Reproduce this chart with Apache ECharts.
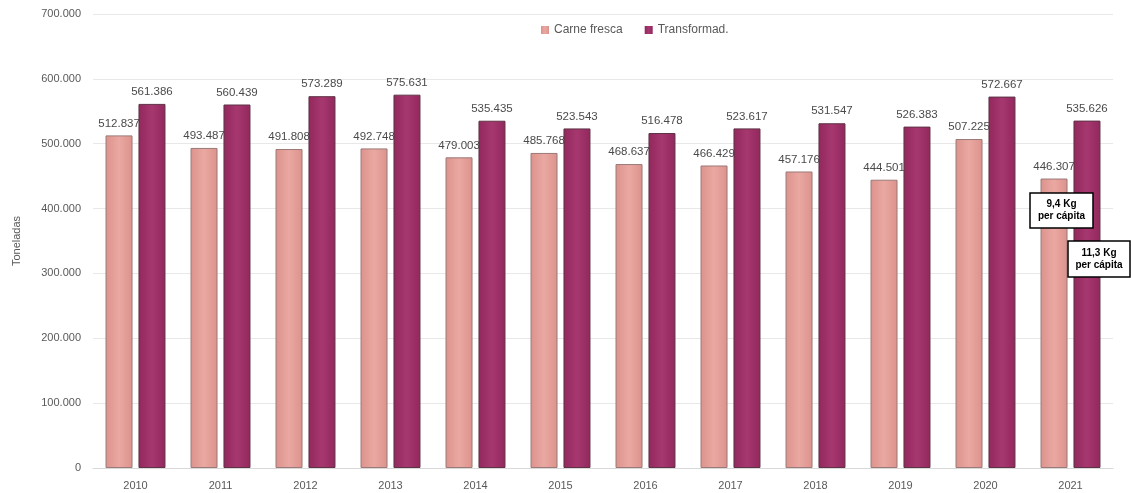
<!DOCTYPE html>
<html>
<head>
<meta charset="utf-8">
<script src="https://cdn.jsdelivr.net/npm/echarts@6/dist/echarts.min.js"></script>
<style>
  html, body { margin: 0; padding: 0; background: #fff; }
  #chart { width: 1131px; height: 493px; }
</style>
</head>
<body>
<div id="chart"></div>
<script>
// Consumo de carne de cerdo en hogares (toneladas)
const years = ['2010','2011','2012','2013','2014','2015','2016','2017','2018','2019','2020','2021'];
const carneFresca = [512837, 493487, 491808, 492748, 479003, 485768, 468637, 466429, 457176, 444501, 507225, 446307];
const transformados = [561386, 560439, 573289, 575631, 535435, 523543, 516478, 523617, 531547, 526383, 572667, 535626];
const seriesNames = ['Carne fresca', 'Transformad.'];
const yTicks = [0, 100000, 200000, 300000, 400000, 500000, 600000, 700000];
const perCapita = ['9,4 Kg\nper cápita', '11,3 Kg\nper cápita'];

const fmt = v => String(v).replace(/\B(?=(\d{3})+(?!\d))/g, '.');

function barGradient(edge, mid) {
  return new echarts.graphic.LinearGradient(0, 0, 1, 0, [
    { offset: 0, color: edge },
    { offset: 0.5, color: mid },
    { offset: 1, color: edge }
  ]);
}

const labelStyle = {
  show: true,
  position: 'top',
  distance: 6,
  color: '#4a4a4a',
  fontSize: 11.5,
  fontFamily: 'Liberation Sans, Arial, sans-serif',
  formatter: p => fmt(p.value)
};

// white boxed note with bold two-line text, drawn above the bars
function note(x, y, w, h, text) {
  return {
    type: 'group',
    x: x, y: y,
    z: 100,
    children: [
      { type: 'rect', z: 100, shape: { x: 0, y: 0, width: w, height: h },
        style: { fill: '#fff', stroke: '#000', lineWidth: 1.5 } },
      { type: 'text', z: 101, x: w / 2, y: h / 2,
        style: { text: text, fill: '#000', fontSize: 10, fontWeight: 'bold',
                 align: 'center', verticalAlign: 'middle', lineHeight: 12 } }
    ]
  };
}

const chart = echarts.init(document.getElementById('chart'));
chart.setOption({
  animation: false,
  textStyle: { fontFamily: 'Liberation Sans, Arial, sans-serif' },
  legend: {
    top: 19,
    left: 536,
    icon: 'rect',
    itemWidth: 8,
    itemHeight: 8,
    itemGap: 22,
    itemStyle: { borderWidth: 0 },
    textStyle: { color: '#595959', fontSize: 12 },
    data: seriesNames
  },
  grid: { left: 93, right: 18, top: 14, bottom: 25, containLabel: false },
  xAxis: {
    type: 'category',
    data: years,
    axisLine: { lineStyle: { color: '#d9d9d9' } },
    axisTick: { show: false },
    axisLabel: { color: '#595959', fontSize: 11, margin: 12 }
  },
  yAxis: {
    type: 'value',
    min: yTicks[0],
    max: yTicks[yTicks.length - 1],
    interval: 100000,
    name: 'Toneladas',
    nameLocation: 'middle',
    nameGap: 71,
    nameTextStyle: { color: '#595959', fontSize: 11 },
    axisLine: { show: false },
    axisTick: { show: false },
    axisLabel: { color: '#595959', fontSize: 11, margin: 12, formatter: v => fmt(v) },
    splitLine: { lineStyle: { color: '#e8e8e8' } }
  },
  series: [
    {
      name: seriesNames[0],
      type: 'bar',
      data: carneFresca,
      barWidth: 27,
      barGap: '22%',
      itemStyle: {
        color: barGradient('#dc928c', '#eaa8a2'),
        borderColor: '#9a7a78',
        borderWidth: 1
      },
      label: labelStyle
    },
    {
      name: seriesNames[1],
      type: 'bar',
      data: transformados,
      barWidth: 27,
      itemStyle: {
        color: barGradient('#92285d', '#a6386f'),
        borderColor: '#5e3346',
        borderWidth: 1
      },
      label: labelStyle
    }
  ],
  graphic: [
    note(1030, 193, 63, 35, perCapita[0]),
    note(1068, 241, 62, 36, perCapita[1])
  ]
});
</script>
</body>
</html>
